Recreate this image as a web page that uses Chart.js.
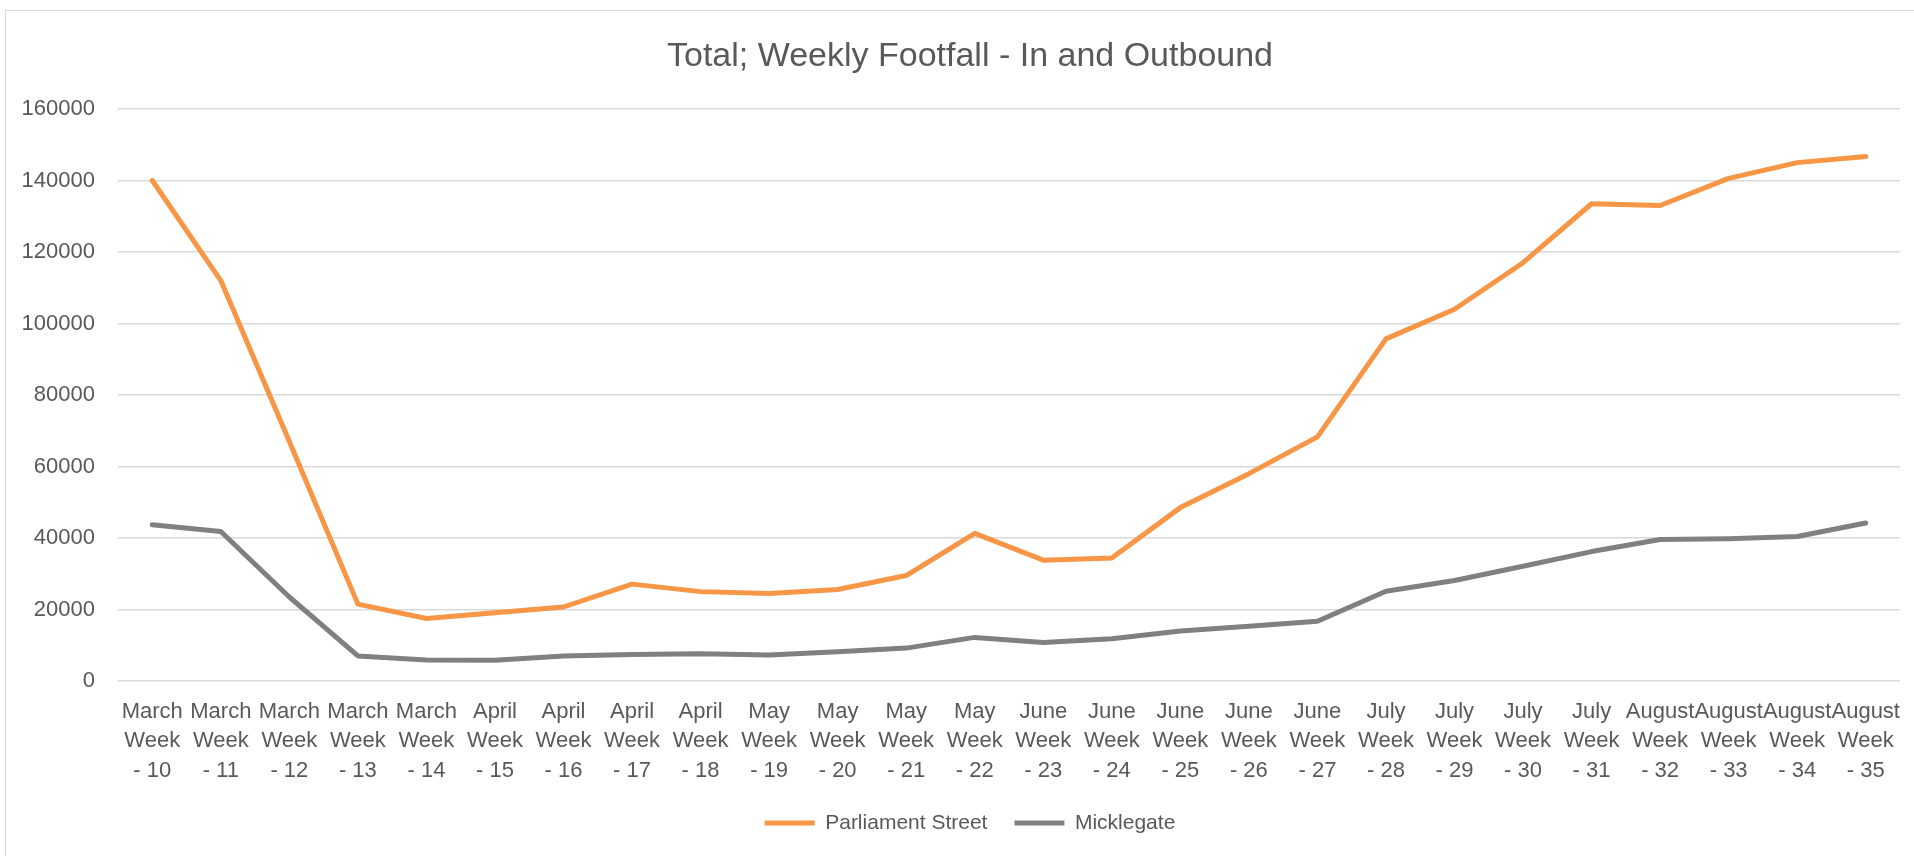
<!DOCTYPE html>
<html>
<head>
<meta charset="utf-8">
<script src="https://cdn.jsdelivr.net/npm/chart.js@4"></script>
<style>
  html, body { margin: 0; padding: 0; background: #fff; overflow: hidden; }
  #wrap { position: relative; width: 1914px; height: 856px; overflow: hidden; }
  #frame { position: absolute; left: 5px; top: 10px; width: 1940px; height: 900px;
           border-left: 1px solid #D9D9D9; border-top: 1px solid #D9D9D9; pointer-events: none; }
  canvas { position: absolute; left: 0; top: 0; }
</style>
</head>
<body>
<div id="wrap">
  <canvas id="c" width="1940" height="856"></canvas>
  <div id="frame"></div>
</div>
<script>
const chartTitle = 'Total; Weekly Footfall - In and Outbound';
const months = ['March','March','March','March','March','April','April','April','April','May','May','May','May',
                'June','June','June','June','June','July','July','July','July','August','August','August','August'];
const weeks = [10,11,12,13,14,15,16,17,18,19,20,21,22,23,24,25,26,27,28,29,30,31,32,33,34,35];
const seriesNames = ['Parliament Street', 'Micklegate'];
const parliamentStreet = [140000,112000,67000,21500,17500,19100,20700,27100,25000,24500,25600,29500,41300,
                          33800,34400,48500,58000,68300,95700,104000,117000,133500,133000,140600,145000,146700];
const micklegate = [43700,41800,23500,7000,5900,5800,7000,7400,7600,7300,8200,9200,12200,
                    10800,11800,14000,15300,16700,25100,28100,32100,36200,39600,39800,40400,44200];
const yTicks = [0,20000,40000,60000,80000,100000,120000,140000,160000];

const labels = months.map((m, i) => [m, 'Week', '- ' + weeks[i]]);
const FONT = "'Liberation Sans', Arial, sans-serif";
const TXT = '#595959';
const legendPad = 27;

new Chart(document.getElementById('c'), {
  type: 'line',
  data: {
    labels: labels,
    datasets: [
      { label: seriesNames[0], data: parliamentStreet, borderColor: '#F79646', backgroundColor: '#F79646',
        borderWidth: 5, pointRadius: 0, pointHoverRadius: 0, tension: 0,
        borderCapStyle: 'round', borderJoinStyle: 'round', fill: false, yAxisID: 'y' },
      { label: seriesNames[1], data: micklegate, borderColor: '#808080', backgroundColor: '#808080',
        borderWidth: 5, pointRadius: 0, pointHoverRadius: 0, tension: 0,
        borderCapStyle: 'round', borderJoinStyle: 'round', fill: false, yAxisID: 'y' }
    ]
  },
  options: {
    responsive: false,
    animation: false,
    devicePixelRatio: 1,
    layout: { padding: { left: 0, right: 0, top: 0, bottom: 12.5 } },
    plugins: {
      title: {
        display: true, text: chartTitle, color: TXT,
        font: { family: FONT, size: 34, weight: 'normal', lineHeight: 1.2 },
        padding: { top: 36, bottom: 32.2 }
      },
      legend: {
        display: true, position: 'bottom',
        labels: {
          color: TXT, font: { family: FONT, size: 21 },
          usePointStyle: true, pointStyle: 'line', pointStyleWidth: 50,
          boxHeight: 21, padding: legendPad
        }
      },
      tooltip: { enabled: false }
    },
    scales: {
      x: {
        type: 'category', offset: true,
        grid: { display: false, drawTicks: false },
        border: { display: false },
        ticks: { color: TXT, font: { family: FONT, size: 22, lineHeight: '29.5px' },
                 autoSkip: false, maxRotation: 0, minRotation: 0, padding: 16 },
        afterFit: (s) => { s.height = 856 - 12.5 - (31 + legendPad) - 681; }
      },
      y: {
        position: 'left',
        min: 0, max: 160000,
        grid: { color: '#D9D9D9', lineWidth: 1.5, drawTicks: false },
        border: { display: false },
        afterBuildTicks: (s) => { s.ticks = yTicks.map(v => ({ value: v })); },
        ticks: { color: TXT, font: { family: FONT, size: 22 }, padding: 23,
                 callback: (v) => String(v) },
        afterFit: (s) => { s.width = 118; }
      },
      yRight: {
        position: 'right', display: true,
        min: 0, max: 160000,
        grid: { display: false, drawTicks: false },
        border: { display: false },
        ticks: { display: false },
        afterFit: (s) => { s.width = 40; }
      }
    }
  }
});
</script>
</body>
</html>
